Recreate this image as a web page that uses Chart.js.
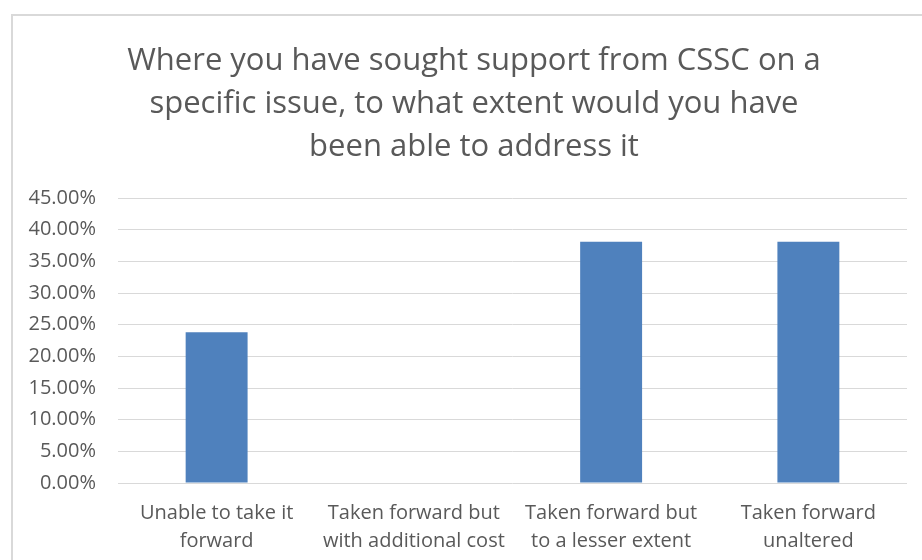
<!DOCTYPE html>
<html>
<head>
<meta charset="utf-8">
<script src="https://cdn.jsdelivr.net/npm/chart.js@4/dist/chart.umd.min.js"></script>
<style>
  html, body { margin: 0; padding: 0; background: #fff; }
  #wrap { width: 922px; height: 560px; position: relative; }
</style>
</head>
<body>
<div id="wrap"><canvas id="c" width="922" height="560"></canvas></div>
<script>
const categories = [
  ['Unable to take it', 'forward'],
  ['Taken forward but', 'with additional cost'],
  ['Taken forward but', 'to a lesser extent'],
  ['Taken forward', 'unaltered']
];
const shares = [23.81, 0, 38.10, 38.10];
const titleLines = [
  'Where you have sought support from CSSC on a',
  'specific issue, to what extent would you have',
  'been able to address it'
];
const yTicks = { min: 0, max: 45, step: 5 };

const FONT = "'Open Sans', 'Liberation Sans', sans-serif";
const GREY = '#595959';

// light frame around the whole chart, plus the three-line heading
const frame = {
  id: 'frame',
  beforeDraw(chart) {
    const ctx = chart.ctx;
    ctx.save();
    ctx.fillStyle = '#fff';
    ctx.fillRect(0, 0, chart.width, chart.height);
    ctx.strokeStyle = '#d9d9d9';
    ctx.lineWidth = 2;
    ctx.strokeRect(12, 15, 1200, 1200);
    ctx.restore();
  },
  afterDraw(chart) {
    const ctx = chart.ctx;
    ctx.save();
    ctx.fillStyle = GREY;
    ctx.font = 'normal 31px ' + FONT;
    ctx.textAlign = 'center';
    ctx.textBaseline = 'middle';
    titleLines.forEach((line, i) => ctx.fillText(line, 474, 61.5 + i * 43));
    ctx.restore();
  }
};

new Chart(document.getElementById('c'), {
  type: 'bar',
  data: {
    labels: categories,
    datasets: [{
      data: shares,
      backgroundColor: '#4F81BD',
      borderWidth: 0,
      categoryPercentage: 1,
      barPercentage: 0.314
    }]
  },
  options: {
    responsive: false,
    animation: false,
    devicePixelRatio: 1,
    layout: { padding: { left: 0, right: 15, top: 198, bottom: 0 } },
    plugins: {
      legend: { display: false },
      tooltip: { enabled: false },
      title: { display: false }
    },
    scales: {
      x: {
        grid: { display: false, drawTicks: false },
        border: { display: false },
        ticks: {
          color: GREY,
          font: { family: FONT, size: 20, lineHeight: '28px' },
          padding: 16,
          maxRotation: 0,
          autoSkip: false
        },
        afterFit(scale) { scale.height = 77; }
      },
      y: {
        min: yTicks.min,
        max: yTicks.max,
        grid: { color: '#d9d9d9', lineWidth: 1, drawTicks: false },
        border: { display: false },
        ticks: {
          stepSize: yTicks.step,
          color: GREY,
          font: { family: FONT, size: 20 },
          padding: 22,
          callback: v => v.toFixed(2) + '%'
        },
        afterFit(scale) { scale.width = 118; }
      }
    }
  },
  plugins: [frame]
});
</script>
</body>
</html>
